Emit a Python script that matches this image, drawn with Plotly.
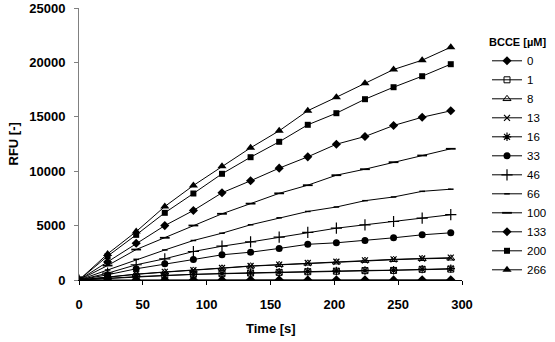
import plotly.graph_objects as go

time_s = [0, 22.4, 44.8, 67.2, 89.6, 112.0, 134.4, 156.8, 179.2, 201.6, 224.0, 246.4, 268.8, 291.2]

labels = ["0", "1", "8", "13", "16", "33", "46", "66", "100", "133", "200", "266"]

rfu_0 = [0, 10, 20, 10, 20, 10, 20, 20, 10, 20, 20, 10, 20, 20]
rfu_1 = [0, 150, 290, 400, 520, 580, 640, 700, 760, 810, 860, 880, 980, 1000]
rfu_8 = [0, 280, 520, 720, 880, 1080, 1270, 1400, 1530, 1640, 1780, 1860, 1950, 2000]
rfu_13 = [0, 300, 540, 740, 900, 1100, 1290, 1420, 1560, 1680, 1810, 1900, 1980, 2050]
rfu_16 = [0, 170, 310, 420, 540, 600, 660, 720, 790, 830, 880, 900, 1000, 1050]
rfu_33 = [0, 480, 1030, 1490, 1884, 2316, 2555, 2900, 3280, 3419, 3630, 3879, 4154, 4338]
rfu_46 = [0, 625, 1400, 1950, 2619, 3107, 3500, 3934, 4370, 4761, 5074, 5377, 5680, 6000]
rfu_66 = [0, 920, 1900, 2760, 3630, 4301, 5074, 5717, 6300, 6710, 7290, 7630, 8150, 8346]
rfu_100 = [0, 1330, 2800, 3880, 5009, 6085, 7020, 7965, 8713, 9632, 10184, 10827, 11443, 12059]
rfu_133 = [0, 1650, 3380, 5000, 6390, 8015, 9120, 10280, 11320, 12480, 13190, 14200, 14960, 15550]
rfu_200 = [0, 2190, 4150, 6176, 7950, 9761, 11287, 12702, 14265, 15331, 16618, 17720, 18731, 19835]
rfu_266 = [0, 2400, 4450, 6755, 8686, 10460, 12150, 13713, 15560, 16800, 18088, 19347, 20202, 21397]

series = [rfu_0, rfu_1, rfu_8, rfu_13, rfu_16, rfu_33, rfu_46, rfu_66, rfu_100, rfu_133, rfu_200, rfu_266]

# marker styles: (symbol, size, line width)
styles = [
    ("diamond", 7, 0),
    ("square-open", 6, 1),
    ("triangle-up-open", 7, 1),
    ("x-thin", 6, 1.2),
    ("asterisk", 7, 1.2),
    ("circle", 7, 0),
    ("cross-thin", 8, 1.2),
    ("line-ew", 4, 1.5),
    ("line-ew", 7, 1.8),
    ("diamond", 7, 0),
    ("square", 6, 0),
    ("triangle-up", 8, 0),
]

FONT = "Liberation Sans, Arial, sans-serif"

fig = go.Figure()
for lab, vals, (sym, sz, lw) in zip(labels, series, styles):
    fig.add_trace(go.Scatter(
        x=time_s, y=vals, name=lab, mode="lines+markers",
        line=dict(color="black", width=1),
        marker=dict(symbol=sym, size=sz, color="black",
                    line=dict(color="black", width=lw)),
    ))

fig.update_layout(
    width=555, height=342,
    margin=dict(l=79, r=93, t=8, b=62, autoexpand=False),
    paper_bgcolor="white", plot_bgcolor="white",
    font=dict(family=FONT, color="black"),
    showlegend=True,
    legend=dict(
        xref="container", yref="container",
        x=487 / 555, y=1 - 32 / 342, xanchor="left", yanchor="top",
        maxheight=330,
        title=dict(text="BCCE [µM]", font=dict(size=11, weight="bold", family=FONT)),
        font=dict(size=11.5, family=FONT),
        bgcolor="rgba(0,0,0,0)", borderwidth=0,
        tracegroupgap=0,
    ),
    xaxis=dict(
        range=[0, 300], dtick=50, tick0=0, automargin=False,
        showgrid=False, zeroline=False,
        showline=True, linecolor="black", linewidth=1,
        ticks="outside", ticklen=4, tickcolor="black",
        tickfont=dict(size=13, weight="bold", family=FONT),
        ticklabelstandoff=8,
    ),
    yaxis=dict(
        range=[0, 25000], dtick=5000, tick0=0, automargin=False,
        tickformat="d",
        showgrid=False, zeroline=False,
        showline=True, linecolor="#808080", linewidth=1,
        ticks="outside", ticklen=4, tickcolor="#808080",
        tickfont=dict(size=13, weight="bold", family=FONT),
        ticklabelstandoff=6,
    ),
    annotations=[
        dict(text="RFU [-]", xref="paper", yref="paper", x=-79 / 383 + 12.5 / 383, y=0.5,
             xanchor="center", yanchor="middle", showarrow=False, textangle=-90,
             font=dict(size=13, weight="bold", family=FONT)),
        dict(text="Time [s]", xref="paper", yref="paper", x=(271 - 79) / 383,
             y=-(328 - 279.5) / 271.5, xanchor="center", yanchor="middle", showarrow=False,
             font=dict(size=13, weight="bold", family=FONT)),
    ],
)

fig.write_html("out.html")
